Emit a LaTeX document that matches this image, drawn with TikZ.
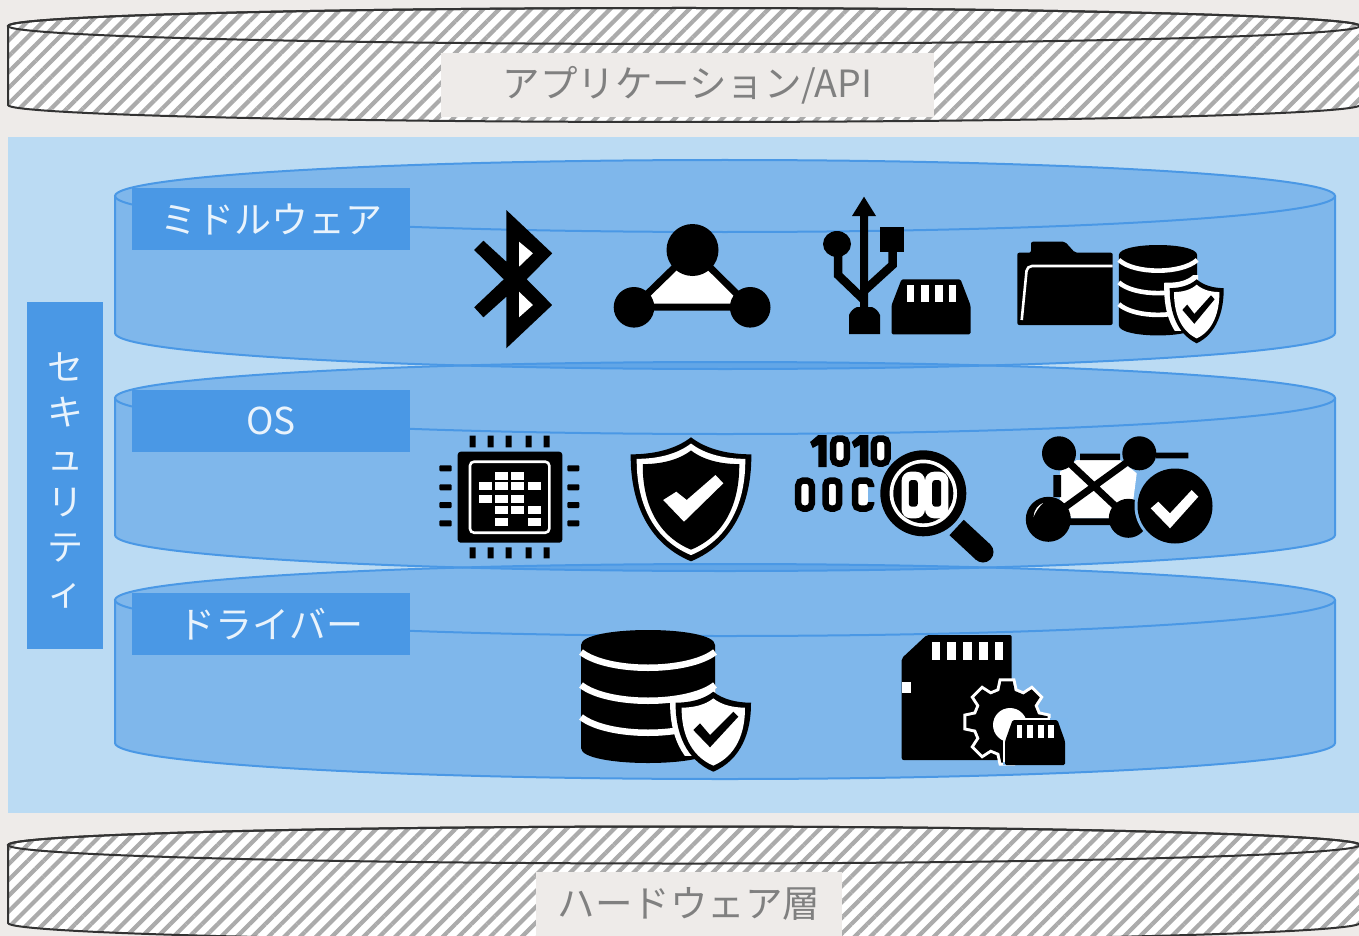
\documentclass[tikz,border=0pt]{standalone}
\usepackage{fontspec}
\newfontfamily\jpfont{Noto Sans CJK JP}
\usetikzlibrary{positioning,patterns.meta}
\definecolor{paper}{HTML}{EEEBE9}
\definecolor{panel}{HTML}{BBDBF3}
\definecolor{layer}{HTML}{4A98E5}
\definecolor{iconbg}{HTML}{7EB7EC}
\tikzset{
  labelbox/.style={fill=layer,text=white!88!layer,minimum width=278pt,minimum height=62pt,inner sep=0pt,
    font=\jpfont\fontsize{37}{37}\selectfont},
  sidebox/.style={fill=layer,text=white!88!layer,minimum width=76pt,minimum height=347pt,inner sep=0pt,align=center,
    font=\jpfont\fontsize{36}{45}\selectfont},
  graybox/.style={fill=paper,text=black!50,minimum height=64pt,inner sep=0pt,
    font=\jpfont\fontsize{37.5}{37.5}\selectfont},
  hatched/.style={preaction={fill=white},pattern={Lines[angle=45,distance=11.2pt,line width=4.2pt]},pattern color=black!33,
    draw=black!80,line width=2pt},
}
\def\hatchdisk#1#2#3#4{
  \path [hatched] (8,#1) -- (8,#2) arc [start angle=180,end angle=360,x radius=676pt,y radius=#4pt]
    -- (1360,#1) arc [start angle=0,end angle=180,x radius=676pt,y radius=#3pt] -- cycle;
  \draw [black!80,line width=2pt] (684,#1) ellipse [x radius=676pt,y radius=#3pt];
}
\def\layerdisk#1#2{
  \path [fill=layer,fill opacity=.53] (115,#1) -- (115,#2) arc [start angle=180,end angle=360,x radius=610pt,y radius=36pt]
    -- (1335,#1) arc [start angle=0,end angle=180,x radius=610pt,y radius=36pt] -- cycle;
  \draw [layer,line width=2pt] (115,#1) -- (115,#2) arc [start angle=180,end angle=360,x radius=610pt,y radius=36pt] -- (1335,#1);
  \draw [layer,line width=2pt] (725,#1) ellipse [x radius=610pt,y radius=36pt];
}
\def\shieldpath{(0,0) .. controls (10,8) and (24,11) .. (37.7,11) .. controls (38,40) and (28,68) .. (0,80)
  .. controls (-28,68) and (-38,40) .. (-37.7,11) .. controls (-24,11) and (-10,8) .. (0,0) -- cycle}
\def\dbstack#1#2#3#4#5{
  \begin{scope}[shift={(#1,#2)},xscale=#3,yscale=#4]
    \fill (-67,15) .. controls (-67,-5) and (67,-5) .. (67,15) -- (67,118) .. controls (67,138) and (-67,138) .. (-67,118) -- cycle;
    \foreach \lvl in {22,55,87}
      \draw [white,line width=#5pt] (-67,\lvl) .. controls (-40,\lvl+21) and (40,\lvl+21) .. (67,\lvl);
  \end{scope}
}
\def\shieldmark#1#2#3#4{
  \begin{scope}[shift={(#1,#2)},xscale=#3,yscale=#4]
    \begin{scope}
      \clip (-60,-5) rectangle (2,64);
      \draw [white,line width=11pt] \shieldpath;
    \end{scope}
    \fill \shieldpath;
    \fill [white,shift={(0,6.7)},scale=.84] \shieldpath;
    \fill (-20,38.3) -- (-13.3,31.6) -- (-3.3,43.3) -- (20,20) -- (25,25) -- (-3.3,55.6) -- cycle;
  \end{scope}
}
\def\sdsmall#1#2#3#4{
  \begin{scope}[shift={(#1,#2)},xscale=#3,yscale=#4]
    \fill [rounded corners=1.5pt] (10,0) -- (69,0) -- (79,26) -- (79,55) -- (0,55) -- (0,26) -- cycle;
    \foreach \bar in {15.3,29.5,43.5,57.2}
      \fill [white] (\bar,5.7) rectangle ++(7.6,16.7);
  \end{scope}
}
\def\bitzero#1#2#3{
  \draw [line width=6.5pt,fill=white,rounded corners=5pt] ({#1-6.8},{#2-#3}) rectangle ({#1+6.8},{#2+#3});
}
\def\bitone#1#2{
  \fill [shift={(#1,#2)}] (-8.4,0) -- (0,0) -- (0,32) -- (-8.4,32) -- (-8.4,10) -- (-14,13) -- (-16.6,7) -- cycle;
}
\begin{document}
\begin{tikzpicture}[x=1pt,y=-1pt,node distance=140pt]
\useasboundingbox (0,0) rectangle (1359,936);
\clip (0,0) rectangle (1359,936);
\fill [paper] (0,0) rectangle (1359,936);
\fill [panel] (8,137) rectangle (1359,813);
\hatchdisk{26}{105}{18}{17}
\hatchdisk{845}{923}{18.5}{18}
\layerdisk{196}{333}
\layerdisk{398}{535}
\layerdisk{600}{743}
\node [graybox,minimum width=493pt] (app) at (687.5,85) {アプリケーション/API};
\node [graybox,minimum width=306pt] (hw) at (689,904) {ハードウェア層};
\node [labelbox] (mid) at (271,219) {ミドルウェア};
\node [labelbox,below=of mid] (os) {OS};
\node [labelbox,below=of os] (drv) {ドライバー};
\node [sidebox] (sec) at (65,475.5) {\rule{0pt}{38pt}セ\\キ\\ュ\\リ\\テ\\ィ};
% bluetooth
\fill (506.3,210) -- (552.2,253.3) -- (526.7,279.3) -- (552.2,305) -- (506.3,348.3) -- (506.3,296.7) -- (483.4,317.3) -- (474.2,307.3)
  -- (503.8,279.3) -- (474.2,250) -- (483.4,240.7) -- (506.3,261.7) -- cycle;
\fill [white] (519,241.7) -- (532.9,253.3) -- (519,266.7) -- cycle;
\fill [white] (519,291.7) -- (532.9,305) -- (519,317.3) -- cycle;
% mesh triangle
\draw [line width=7pt,fill=white,line join=round] (692.5,250) -- (634,307) -- (750,307) -- cycle;
\fill (692.5,250) circle (26pt) (634,307.3) circle (20.3pt) (750.2,307.3) circle (20.3pt);
% usb plug and card
\fill (864,196.7) -- (876,216) -- (868,216) -- (868,307) -- (872,307) to [bend left=20] (880,315) -- (880,334) -- (849,334) -- (849,315)
  to [bend left=20] (857,307) -- (860,307) -- (860,216) -- (852,216) -- cycle;
\fill (837,244) ellipse [x radius=14pt,y radius=13pt];
\fill (880,227) rectangle (904,252);
\draw [line width=8.5pt] (838,250) -- (838,275) -- (864,300);
\draw [line width=8.5pt] (892.5,250) -- (892.5,265) -- (864,291);
\sdsmall{891.5}{279.3}{1}{1}
% folder with database
\fill [rounded corners=2pt] (1017.3,325) -- (1017.3,252.7) -- (1031,252.7) -- (1031,241.7) -- (1065,241.7) -- (1075,252.7) -- (1112.7,252.7) -- (1112.7,325) -- cycle;
\draw [white,line width=2.6pt,rounded corners=5pt] (1021.7,320) -- (1027,266) -- (1112.7,266);
\dbstack{1158}{245}{.585}{.68}{4.6}
\shieldmark{1196.7}{279.3}{.716}{.8}
% chip
\foreach \pin in {472.7,490.7,508.7,528.7,546.7}
  \fill (\pin-3,435.7) rectangle (\pin+3,447.3) (\pin-3,547.3) rectangle (\pin+3,558.3);
\foreach \pin in {468.3,487.3,505,523.3}
  \fill [rounded corners=1pt] (439.3,\pin-3) rectangle (451.7,\pin+3) (567.3,\pin-3) rectangle (579.3,\pin+3);
\fill [rounded corners=3pt] (457.7,451.7) rectangle (562.3,542.7);
\draw [white,line width=2.6pt,rounded corners=4pt] (470,461.7) rectangle (549.3,532.7);
\foreach \cx/\cy in {501/475.5,517.5/475.5,485/486,501/486,517.5/486,534/486,485/498.5,501/498.5,517.5/498.5,501/510,517.5/510,534/510,501/522,534/522}
  \fill [white] (\cx-6.5,\cy-4) rectangle (\cx+6.5,\cy+4);
% big shield
\begin{scope}[shift={(691,437.3)},xscale=1.6,yscale=1.55]
  \fill \shieldpath;
  \fill [white,shift={(0,4)},scale=.9] \shieldpath;
  \fill [shift={(0,8.5)},scale=.8] \shieldpath;
\end{scope}
\fill [white] (663.2,500) -- (676.3,491.7) -- (686.7,500) -- (715.5,475) -- (723.3,483.3) -- (684,521.7) -- cycle;
% bits and magnifier
\bitone{826.7}{435}
\bitzero{840}{451}{12.5}
\bitone{868.3}{435}
\bitzero{880.7}{451}{12.5}
\bitzero{805}{494.5}{14}
\bitzero{832.3}{494.5}{14}
\fill [white] (858,483) rectangle (868,506);
\draw [line width=6.5pt,rounded corners=5pt] (871,487) -- (871,480.5) -- (855,480.5) -- (855,508.5) -- (871,508.5) -- (871,502);
\fill (923.3,493.3) circle (43pt);
\fill [white] (923.3,493.3) circle (33.7pt);
\fill (923.3,493.3) circle (30pt);
\fill [white,rounded corners=9pt] (901.6,471.7) rectangle (925,518.3) (925,471.7) rectangle (948.4,518.3);
\fill [rounded corners=3pt] (908.8,480) rectangle (917.8,506.7) (932.2,480) rectangle (941.2,506.7);
\draw [line width=21pt] (956.6,527.5) -- (983,552);
\fill (983,552) circle (10.5pt);
% network with check
\fill [white] (1076.7,460) -- (1120,460) -- (1136.7,473.3) -- (1133.3,500) -- (1110,518.3) -- (1071.7,518.3) -- (1060,500) -- (1060,471.7) -- cycle;
\fill (1080,453.5) rectangle (1120,460) (1156,452.7) rectangle (1188.3,458.3) (1053.3,475) rectangle (1061,497) (1070,518.3) rectangle (1115,525);
\draw [line width=7pt] (1059,453.3) -- (1128.3,518.3) (1139.3,453.3) -- (1048.3,519.3);
\fill (1059,453.3) circle (17pt) (1139.3,453.3) circle (17pt) (1048.3,519.3) circle (22.5pt) (1128.3,518.3) circle (19.5pt);
\fill [white] (1033.5,517) .. controls (1034,510) and (1038,505) .. (1043,503) .. controls (1039,507) and (1036,511) .. cycle;
\fill [iconbg] (1175,506) circle (40.5pt);
\fill (1175,506) circle (37.5pt);
\fill [white] (1150.7,508.3) -- (1158.3,501.7) -- (1170,513.3) -- (1191.7,490) -- (1198.3,496.7) -- (1170,528.3) -- cycle;
% database with shield
\dbstack{648}{630}{1}{1}{6.5}
\shieldmark{713.3}{691.7}{1}{1}
% sd card with gear
\fill [rounded corners=2pt] (926.7,635) -- (1011.7,635) -- (1011.7,760) -- (901.7,760) -- (901.7,658.3) -- cycle;
\foreach \bar in {931.7,947.3,963.3,979.3,994.7}
  \fill [white] (\bar,641.7) rectangle ++(8.6,18.3);
\fill [white] (901.7,681.7) rectangle (910.7,692.7);
\path [fill=black,draw=white,line width=6pt,shift={(1007,722)}] (-14:32) \foreach \a in {0,45,...,315}{ -- ({\a-14}:32) -- ({\a-8}:41) -- ({\a+8}:41) -- ({\a+14}:32) } -- cycle;
\fill [black,shift={(1007,722)}] (-14:32) \foreach \a in {0,45,...,315}{ -- ({\a-14}:32) -- ({\a-8}:41) -- ({\a+8}:41) -- ({\a+14}:32) } -- cycle;
\fill [white] (1010,725) circle (17pt);
\fill [white] (1003,718) rectangle (1067,765);
\fill [iconbg] (1050,718) rectangle (1067,765) (1003,762) rectangle (1067,765);
\sdsmall{1005}{720}{.76}{.82}
\end{tikzpicture}
\end{document}
